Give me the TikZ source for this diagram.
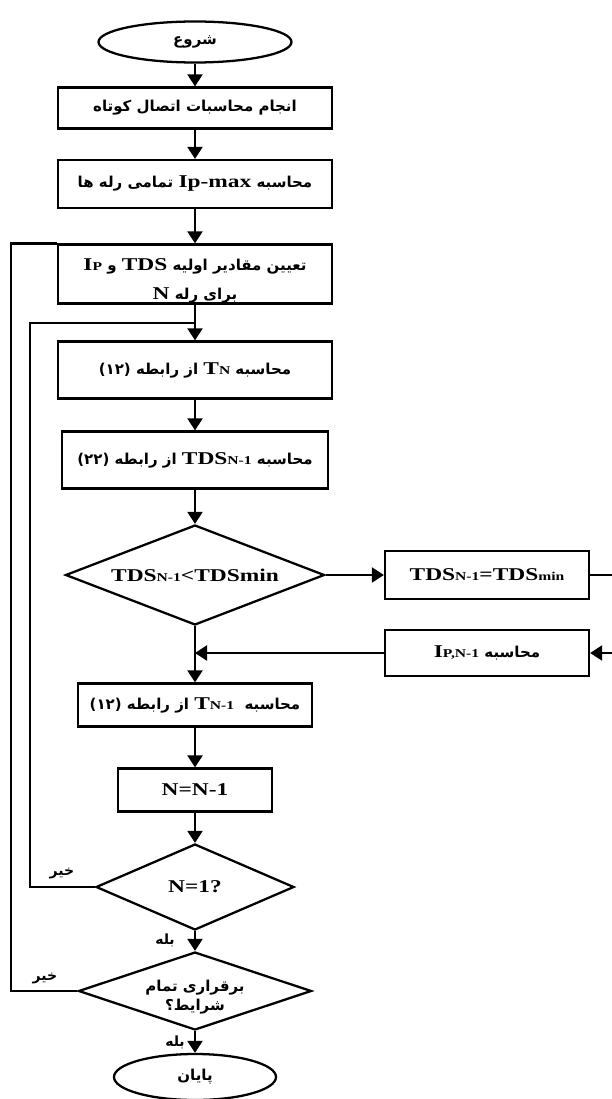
\documentclass[tikz,border=0pt]{standalone}
\usepackage{fontspec}
\setmainfont{Liberation Serif}
\newfontfamily\latfont[FakeStretch=1.3]{Liberation Serif}
\newfontfamily\arabicfont[Script=Arabic]{DejaVu Sans}
\TeXXeTstate=1
\usetikzlibrary{shapes.geometric,arrows.meta}
\newcommand{\lat}[1]{\beginL{\latfont\bfseries\fontsize{18}{22}\selectfont #1}\endL}
\newcommand{\lsub}[1]{{\fontsize{12}{12}\selectfont #1}}
\newcommand{\fa}[1]{{\arabicfont\bfseries\beginR #1\endR}}
\tikzset{
	box/.style={draw, line width=0.8mm, rectangle, inner sep=0pt, font=\fontsize{15}{20}\selectfont},
	cond/.style={draw, line width=0.8mm, diamond, inner sep=0pt, font=\fontsize{15}{20}\selectfont},
	term/.style={draw, line width=0.8mm, ellipse, inner sep=0pt, font=\fontsize{15}{20}\selectfont},
	lbl/.style={inner sep=0pt, font=\fontsize{14}{16}\selectfont},
	flow/.style={line width=0.8mm, -{Triangle[length=12pt,width=15pt]}},
	wire/.style={line width=0.8mm}
}

\begin{document}
\begin{tikzpicture}[x=1pt, y=-1pt]
			%%%%% START %%%%%
			\useasboundingbox (0,0) rectangle (611,1099);
			
			\node[term, minimum width=193pt, minimum height=41pt] (start) at (195,42) {\fa{شروع}};
			\node[box, minimum width=274pt, minimum height=41pt] (calc) at (195,108) {\fa{انجام محاسبات اتصال کوتاه}};
			\node[box, minimum width=274pt, minimum height=48pt] (ipmax) at (195,184) {\fa{محاسبه \lat{Ip-max} تمامی رله ها}};
			\node[box, minimum width=274pt, minimum height=59pt, align=center, font=\fontsize{15}{29}\selectfont] (init) at (195,274) {\rule{0pt}{25pt}\fa{تعیین مقادیر اولیه \lat{TDS} و \lat{I\lsub{P}}}\\ \fa{برای رله \lat{N}}};
			\node[box, minimum width=274pt, minimum height=57pt] (tn) at (195,370) {\fa{محاسبه \lat{T\lsub{N}} از رابطه (۱۲)}};
			\node[box, minimum width=266pt, minimum height=57pt] (tds) at (195,460) {\fa{محاسبه \lat{TDS\lsub{N-1}} از رابطه (۲۲)}};
			
			\node[cond, aspect=2.6, minimum width=259pt, minimum height=100pt] (chk) at (195,575) {\lat{TDS\lsub{N-1}<TDSmin}};
			\node[box, minimum width=204pt, minimum height=48pt] (setmin) at (487,575) {\lat{TDS\lsub{N-1}=TDS\lsub{min}}};
			\node[box, minimum width=204pt, minimum height=46pt] (ipn) at (487,653) {\fa{محاسبه \lat{I\lsub{P,N-1}}}};
			
			\node[box, minimum width=234pt, minimum height=43pt] (tn1) at (195,705) {\fa{محاسبه \ \lat{T\lsub{N-1}} از رابطه (۱۲)}};
			\node[box, minimum width=154pt, minimum height=43pt] (dec) at (195,790) {\lat{N=N-1}};
			\node[cond, aspect=2.3, minimum width=198pt, minimum height=86pt] (last) at (195,887) {\lat{N=1?}};
			\node[cond, aspect=3, inner sep=-4pt, minimum width=233pt, minimum height=78pt, align=center, font=\fontsize{15}{19}\selectfont] (all) at (195,991) {\rule{0pt}{24pt}\fa{برقراری تمام}\\ \fa{شرایط؟}};
			\node[term, minimum width=162pt, minimum height=46pt] (stop) at (195,1077) {\fa{پایان}};
			
			\node[lbl] (no1) at (62,873) {\fa{خیر}};
			\node[lbl] (yes1) at (165,940) {\fa{بله}};
			\node[lbl] (no2) at (45,978) {\fa{خیر}};
			\node[lbl] (yes2) at (175,1042) {\fa{بله}};
			
			\coordinate (j1) at (195,323);
			\coordinate (j2) at (195,653);
			\coordinate (l1) at (30,323);
			\coordinate (r1) at (614,575);
			\coordinate (r2) at (614,653);
			
			\draw[flow] (start) -- (calc);
			\draw[flow] (calc) -- (ipmax);
			\draw[flow] (ipmax) -- (init);
			\draw[flow] (init) -- (tn);
			\draw[flow] (tn) -- (tds);
			\draw[flow] (tds) -- (chk);
			\draw[flow] (chk) -- (setmin);
			\draw[wire] (setmin) -- (r1) -- (r2);
			\draw[flow] (r2) -- (ipn);
			\draw[flow] (ipn) -- (j2);
			\draw[flow] (chk) -- (tn1);
			\draw[flow] (tn1) -- (dec);
			\draw[flow] (dec) -- (last);
			\draw[flow] (last) -- (all);
			\draw[flow] (all) -- (stop);
			
			\draw[wire] (last.west) -| (l1) -- (j1);
			\draw[wire] (all.west) -| ([xshift=-46pt]init.north west) -- (init.north west);
			
			%%%%% END %%%%%
\end{tikzpicture}
\end{document}
